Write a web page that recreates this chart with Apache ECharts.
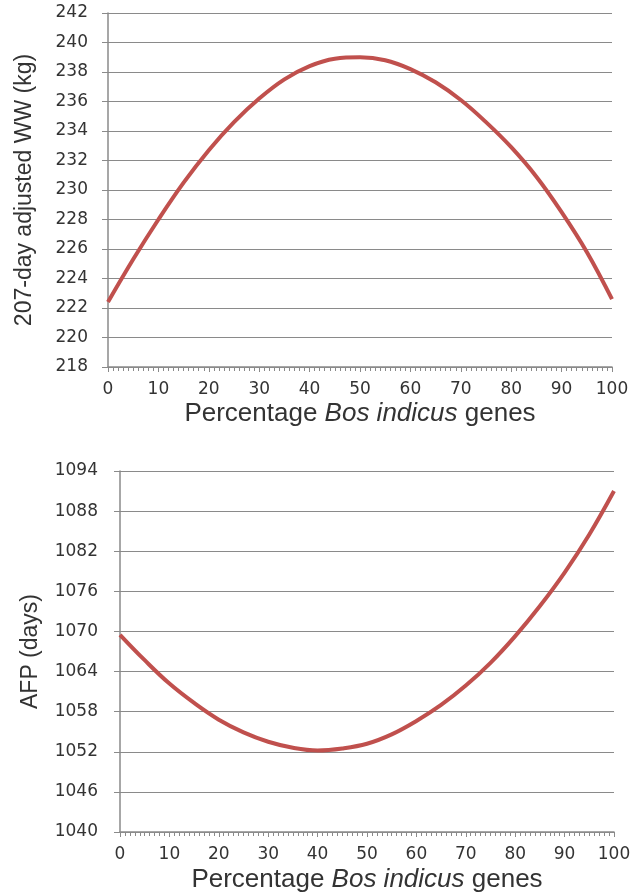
<!DOCTYPE html>
<html>
<head>
    <meta charset="utf-8">
    <script src="https://cdn.jsdelivr.net/npm/echarts@6/dist/echarts.min.js"></script>
    <style>
        html, body { margin: 0; padding: 0; background: #fff; }
    </style>
</head>
<body>
    <div id = "main" style = "width: 642px; height: 894px"></div>
    <script type = "text/javascript">
        // percentage Bos indicus genes
        var pct = [0, 5, 10, 15, 20, 25, 30, 35, 40, 45, 50, 55, 60, 65, 70, 75, 80, 85, 90, 95, 100];
        // 207-day adjusted weaning weight (kg)
        var weaningWeight = [222.4, 225.3, 228.0, 230.5, 232.7, 234.6, 236.2, 237.5, 238.4, 238.9, 239.0,
                             238.8, 238.2, 237.3, 236.1, 234.6, 232.9, 230.9, 228.5, 225.8, 222.6];
        // age at first parturition (days)
        var afp = [1069.5, 1065.7, 1062.2, 1059.3, 1056.8, 1054.9, 1053.5, 1052.6, 1052.2, 1052.5, 1053.2,
                   1054.6, 1056.6, 1059.0, 1061.9, 1065.3, 1069.3, 1073.8, 1078.8, 1084.5, 1091.0];

        var xTitle = 'Percentage {i|Bos indicus} genes';
        var yTitleTop = '207-day adjusted WW (kg)';
        var yTitleBottom = 'AFP (days)';

        function pairs(ys) {
            var out = [];
            for (var i = 0; i < pct.length; i++) {
                out.push([pct[i], ys[i]]);
            }
            return out;
        }

        var gray = '#8a8a8a';
        var labelStyle = { color: '#333', fontFamily: 'DejaVu Sans', fontSize: 17 };

        function xAxisFor(gridIndex, gap) {
            return {
                gridIndex: gridIndex,
                type: 'value',
                min: 0,
                max: 100,
                interval: 10,
                name: xTitle,
                nameLocation: 'middle',
                nameGap: gap,
                nameTextStyle: {
                    color: '#333',
                    fontFamily: 'Liberation Sans',
                    fontSize: 26,
                    rich: { i: { fontStyle: 'italic', fontFamily: 'Liberation Sans', fontSize: 26, color: '#333' } }
                },
                axisLine: { show: true, lineStyle: { color: gray, width: 1.5 } },
                axisTick: { show: true, length: 5, lineStyle: { color: gray } },
                minorTick: { show: true, splitNumber: 10, length: 4, lineStyle: { color: gray } },
                axisLabel: Object.assign({ margin: 14 }, labelStyle),
                splitLine: { show: false }
            };
        }

        function yAxisFor(gridIndex, min, max, step, title, gap, margin) {
            return {
                gridIndex: gridIndex,
                type: 'value',
                min: min,
                max: max,
                interval: step,
                name: title,
                nameLocation: 'middle',
                nameGap: gap,
                nameTextStyle: { color: '#333', fontFamily: 'Liberation Sans', fontSize: 23 },
                axisLine: { show: true, lineStyle: { color: gray, width: 1.5 } },
                axisTick: { show: true, length: 6, lineStyle: { color: gray } },
                axisLabel: Object.assign({
                    margin: margin,
                    formatter: function (v) { return String(v); }
                }, labelStyle),
                splitLine: { show: true, lineStyle: { color: gray, width: 1 } }
            };
        }

        var myChart = echarts.init(document.getElementById('main'), null, { renderer: 'canvas' });
        var option = {
            backgroundColor: '#fff',
            animation: false,
            grid: [
                { left: 108, top: 13, right: 30, height: 354 },
                { left: 120, top: 471, right: 28, height: 365 }
            ],
            xAxis: [xAxisFor(0, 34), xAxisFor(1, 35)],
            yAxis: [
                yAxisFor(0, 218, 242, 2, yTitleTop, 72, 20),
                yAxisFor(1, 1040, 1094, 6, yTitleBottom, 78, 22)
            ],
            series: [
                {
                    type: 'line',
                    xAxisIndex: 0,
                    yAxisIndex: 0,
                    data: pairs(weaningWeight),
                    smooth: 0.4,
                    showSymbol: false,
                    lineStyle: { color: '#c0504d', width: 4 }
                },
                {
                    type: 'line',
                    xAxisIndex: 1,
                    yAxisIndex: 1,
                    data: pairs(afp),
                    smooth: 0.4,
                    showSymbol: false,
                    lineStyle: { color: '#c0504d', width: 4 }
                }
            ]
        };
        myChart.setOption(option);
    </script>
</body>
</html>
